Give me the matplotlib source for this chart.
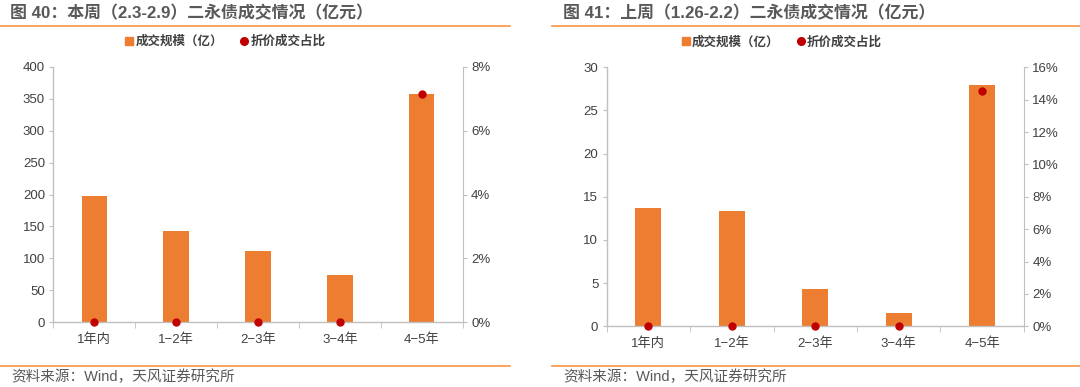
import matplotlib
matplotlib.use("Agg")
import matplotlib.pyplot as plt
from matplotlib.lines import Line2D
from matplotlib.ticker import FuncFormatter

plt.rcParams['font.family'] = ['Liberation Sans', 'Noto Sans CJK SC']

categories = ["1年内", "1−2年", "2−3年", "3−4年", "4−5年"]

# 本周（2.3-2.9）
this_week_volume = [197, 143, 111, 74, 358]
this_week_discount = [0.0, 0.0, 0.0, 0.0, 7.14]

# 上周（1.26-2.2）
last_week_volume = [13.7, 13.4, 4.3, 1.5, 28.0]
last_week_discount = [0.0, 0.0, 0.0, 0.0, 14.55]

titles = ["图 40：本周（2.3-2.9）二永债成交情况（亿元）",
          "图 41：上周（1.26-2.2）二永债成交情况（亿元）"]
source = "资料来源：Wind，天风证券研究所"

bar_color = "#ED7D31"
dot_color = "#C00000"
spine_color = "#BFBFBF"
text_color = "#404040"
rule_color = "#F79646"

fig = plt.figure(figsize=(10.8, 3.87), dpi=100)


def draw_panel(rect, volume, discount, ymax, ystep, pmax, pstep):
    ax = fig.add_axes(rect)
    x = list(range(len(categories)))
    ax.bar(x, volume, width=0.31, color=bar_color, zorder=2)
    ax.set_xlim(-0.5, len(categories) - 0.5)
    ax.set_ylim(0, ymax)
    ax.set_yticks([i * ystep for i in range(int(round(ymax / ystep)) + 1)])
    ax.set_xticks(x)
    ax.set_xticklabels(categories)
    ax.set_xticks([i + 0.5 for i in range(-1, len(categories))], minor=True)
    ax.tick_params(axis='x', which='major', length=0, pad=8, labelsize=9.5, colors=text_color)
    ax.tick_params(axis='x', which='minor', length=4, color=spine_color, direction='out')
    ax.tick_params(axis='y', length=3, color=spine_color, labelsize=9.5, labelcolor=text_color, pad=3)
    for s in ['top', 'right']:
        ax.spines[s].set_visible(False)
    for s in ['left', 'bottom']:
        ax.spines[s].set_color(spine_color)
        ax.spines[s].set_linewidth(1)

    ax2 = ax.twinx()
    ax2.plot(x, discount, 'o', color=dot_color, markersize=5, zorder=3, clip_on=False)
    ax2.set_ylim(0, pmax)
    ax2.set_yticks([i * pstep for i in range(int(round(pmax / pstep)) + 1)])
    ax2.yaxis.set_major_formatter(FuncFormatter(lambda v, p: f"{v:.0f}%"))
    ax2.tick_params(axis='y', length=3, color=spine_color, labelsize=9.5, labelcolor=text_color, pad=3)
    for s in ['top', 'left', 'bottom']:
        ax2.spines[s].set_visible(False)
    ax2.spines['right'].set_color(spine_color)

    handles = [
        Line2D([], [], marker='s', linestyle='none', color=bar_color, markersize=6),
        Line2D([], [], marker='o', linestyle='none', color=dot_color, markersize=5.5),
    ]
    leg = ax.legend(handles, ["成交规模（亿）", "折价成交占比"], loc='center',
                    bbox_to_anchor=(0.42, 1.097), ncol=2, frameon=False,
                    handlelength=0.6, handletextpad=0.2, columnspacing=1.4,
                    prop={'size': 9, 'weight': 'bold'})
    for t in leg.get_texts():
        t.set_color(text_color)
    return ax


draw_panel([0.0494, 0.1672, 0.379, 0.6604], this_week_volume, this_week_discount, 400, 50, 8, 2)
draw_panel([0.5617, 0.1568, 0.3864, 0.6693], last_week_volume, last_week_discount, 30, 5, 16, 2)

# titles and rules
fig.text(10 / 1080, 1 - 13 / 387, titles[0], fontsize=12.2, fontweight='bold',
         color="#595959", va='center', ha='left')
fig.text(563 / 1080, 1 - 13 / 387, titles[1], fontsize=12.2, fontweight='bold',
         color="#595959", va='center', ha='left')
for x0, x1 in [(0, 510), (552, 1080)]:
    for yy in [26, 365.7]:
        fig.add_artist(Line2D([x0 / 1080, x1 / 1080], [1 - yy / 387] * 2,
                              color=rule_color, linewidth=1.2))
fig.text(11.7 / 1080, 1 - 377 / 387, source, fontsize=10.5, color="#595959",
         va='center', ha='left')
fig.text(563 / 1080, 1 - 377 / 387, source, fontsize=10.5, color="#595959",
         va='center', ha='left')

fig.savefig("out.png", dpi=100)
